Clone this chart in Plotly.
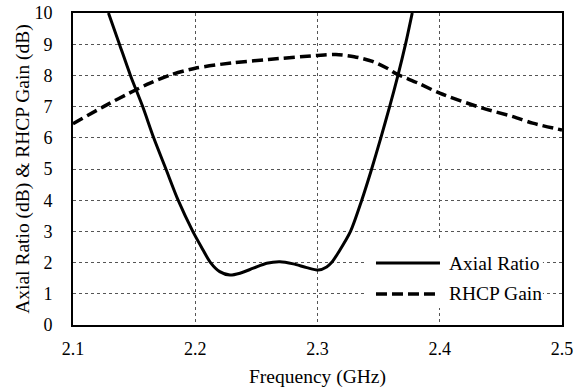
import plotly.graph_objects as go

# Axial ratio (dB) vs frequency (GHz)
ar_freq = [2.129, 2.138, 2.147, 2.157, 2.166, 2.176, 2.186, 2.198, 2.205, 2.2125,
           2.220, 2.2284, 2.2366, 2.2475, 2.2584, 2.2693, 2.2802, 2.2912, 2.3007,
           2.3075, 2.3115, 2.3175, 2.327, 2.3362, 2.3443, 2.3518, 2.359, 2.3658, 2.372, 2.3775]
ar_vals = [10.0, 9.0, 8.0, 7.0, 6.0, 5.0, 4.0, 3.0, 2.5, 2.0,
           1.71, 1.60, 1.66, 1.82, 1.98, 2.03, 1.96, 1.84, 1.76,
           1.86, 2.0, 2.35, 3.0, 4.0, 5.0, 6.0, 7.0, 8.0, 9.0, 10.0]

# RHCP gain (dB) vs frequency (GHz)
gain_freq = [2.10, 2.125, 2.152, 2.163, 2.18, 2.20, 2.23, 2.26, 2.30, 2.315, 2.33, 2.345,
             2.357, 2.365, 2.3825, 2.40, 2.435, 2.46, 2.476, 2.50]
gain_vals = [6.45, 7.0, 7.55, 7.75, 8.02, 8.23, 8.40, 8.51, 8.64, 8.67, 8.60, 8.45,
             8.23, 8.04, 7.75, 7.43, 6.95, 6.68, 6.47, 6.25]

series_names = ["Axial Ratio", "RHCP Gain"]
x_ticks = [2.1, 2.2, 2.3, 2.4, 2.5]
y_ticks = list(range(0, 11))

FONT = "Liberation Serif"
AR_LINE = dict(color="black", width=3)
GAIN_LINE = dict(color="black", width=3.5, dash="11px,5px")

fig = go.Figure()
fig.add_trace(go.Scatter(x=ar_freq, y=ar_vals, mode="lines", name=series_names[0],
                         showlegend=False,
                         line=dict(**AR_LINE, shape="spline", smoothing=0.8)))
fig.add_trace(go.Scatter(x=gain_freq, y=gain_vals, mode="lines", name=series_names[1],
                         showlegend=False,
                         line=dict(**GAIN_LINE, shape="spline", smoothing=0.8)))

axis_common = dict(showline=True, linecolor="black", linewidth=2, mirror=True,
                   showgrid=True, gridcolor="#555555", griddash="dot", gridwidth=1,
                   zeroline=False, ticks="", automargin=False,
                   tickfont=dict(family=FONT, size=18, color="black"))

fig.update_xaxes(range=[2.1, 2.5], tickvals=x_ticks, ticktext=[f"{v:.1f}" for v in x_ticks],
                 title=dict(text="Frequency (GHz)", font=dict(family=FONT, size=19.5, color="black"), standoff=12),
                 ticklabelstandoff=6, **axis_common)
fig.update_yaxes(range=[0, 10], tickvals=y_ticks, ticktext=[str(v) for v in y_ticks],
                 title=dict(text="Axial Ratio (dB) & RHCP Gain (dB)", font=dict(family=FONT, size=19.5, color="black"), standoff=0),
                 ticklabelstandoff=15, **axis_common)

# Legend drawn in the lower right corner (white box covering the grid)
leg_box = dict(x0=0.599, x1=0.961, y0=0.0545, y1=0.2724)
leg_rows = [0.1987, 0.0994]
leg_line_x = (0.6196, 0.7505)
leg_text_x = 0.7648
shapes = [dict(type="rect", xref="paper", yref="paper", **leg_box,
               fillcolor="white", line=dict(width=0), layer="above")]
for row_y, style in zip(leg_rows, [AR_LINE, GAIN_LINE]):
    shapes.append(dict(type="line", xref="paper", yref="paper",
                       x0=leg_line_x[0], x1=leg_line_x[1], y0=row_y, y1=row_y,
                       line=style, layer="above"))
annotations = [dict(x=leg_text_x, y=row_y, xref="paper", yref="paper", text=name,
                    showarrow=False, xanchor="left", yanchor="middle",
                    font=dict(family=FONT, size=19.5, color="black"))
               for row_y, name in zip(leg_rows, series_names)]

fig.update_layout(
    width=582, height=391,
    margin=dict(l=73, r=20, t=13, b=66),
    plot_bgcolor="white", paper_bgcolor="white",
    font=dict(family=FONT, size=19, color="black"),
    showlegend=False,
    shapes=shapes,
    annotations=annotations,
)

fig.write_html("out.html")
